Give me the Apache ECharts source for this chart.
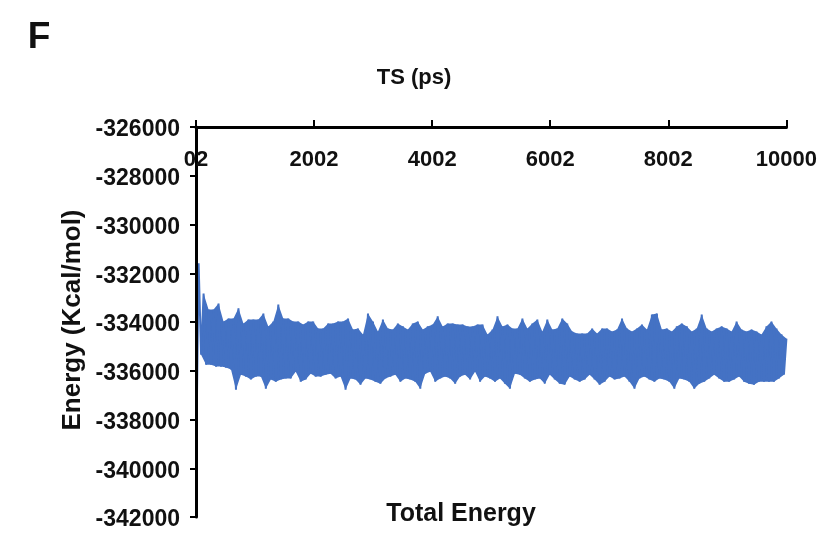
<!DOCTYPE html>
<html>
<head>
<meta charset="utf-8">
<title>Total Energy</title>
<script src="https://cdn.jsdelivr.net/npm/echarts@6/dist/echarts.min.js"></script>
<style>
  html, body { margin: 0; padding: 0; background: #fff; }
  #chart { width: 820px; height: 534px; }
</style>
</head>
<body>
<div id="chart"></div>
<script>
// x axis tick labels as printed on the figure
var tickLabels = ['02', '2002', '4002', '6002', '8002', '10000'];

// lower and upper edge of the energy trace (kcal/mol), read left to right
var lowEnergy = [
  -339950, -335340, -335750, -335750, -335830, -335830, -335870, -335950, -336780, -336160,
  -336240, -336360, -336240, -336240, -336740, -336360, -336450, -336360, -336320, -336320,
  -336040, -336450, -336360, -336120, -336240, -336240, -336160, -336120, -336320, -336240,
  -336780, -336320, -336360, -336570, -336320, -336360, -336450, -336530, -336320, -336240,
  -336160, -336450, -336320, -336360, -336450, -336740, -336120, -336040, -336450, -336320,
  -336240, -336320, -336530, -336240, -336160, -336360, -336040, -336450, -336240, -336320,
  -336450, -336320, -336530, -336740, -336120, -336160, -336320, -336450, -336360, -336320,
  -336530, -336160, -336360, -336530, -336570, -336240, -336360, -336450, -336360, -336160,
  -336360, -336570, -336450, -336240, -336360, -336320, -336240, -336450, -336740, -336320,
  -336240, -336360, -336450, -336320, -336360, -336450, -336740, -336320, -336360, -336450,
  -336740, -336530, -336450, -336320, -336160, -336320, -336450, -336450, -336360, -336240,
  -336450, -336530, -336570, -336450, -336450, -336450, -336450, -336320, -336160
];
var highEnergy = [
  -331590, -332830, -333490, -333490, -333240, -333980, -333860, -333860, -333440, -334060,
  -333900, -333900, -333900, -333650, -334180, -333980, -333280, -333860, -333860, -333980,
  -333980, -334100, -333980, -333980, -334270, -334270, -334060, -334060, -333980, -333980,
  -333860, -334310, -334270, -334510, -333650, -333980, -334390, -333900, -334270, -334310,
  -334060, -334180, -334310, -334060, -333980, -334310, -334180, -334100, -333770, -334180,
  -334060, -334060, -334100, -334100, -334180, -334180, -334100, -334100, -334510, -334310,
  -333770, -334180, -334100, -334270, -334270, -333860, -334270, -334060, -333900, -334390,
  -333900, -334310, -334270, -333860, -334060, -334390, -334470, -334470, -334470, -334270,
  -334470, -334270, -334270, -334390, -334310, -333860, -334270, -334390, -334270, -334100,
  -334310, -333690, -333650, -334310, -334270, -334390, -334180, -334060, -334180, -334390,
  -334270, -333690, -334270, -334390, -334270, -334180, -334270, -334390, -333980, -334310,
  -334390, -334310, -334390, -334510, -334180, -333980, -334270, -334510, -334680
];

var lineColor = '#4472C4';

// the trace swings between the two edges, one sample after the other
var energy = [];
for (var i = 0; i < lowEnergy.length; i++) {
  energy.push(lowEnergy[i]);
  energy.push(highEnergy[i]);
}
var timeOf = function (i) {
  return 2 + i * 9998 / (energy.length - 1);
};
var traceData = energy.map(function (v, i) {
  return [timeOf(i), v];
});

// solid fill between the two edges, so the dense trace reads as one band
function renderBand(params, api) {
  var points = [];
  var k;
  for (k = 1; k < highEnergy.length; k++) {
    points.push(api.coord([timeOf(2 * k + 1), highEnergy[k]]));
  }
  for (k = lowEnergy.length - 1; k >= 1; k--) {
    points.push(api.coord([timeOf(2 * k), lowEnergy[k]]));
  }
  return {
    type: 'polygon',
    shape: { points: points },
    style: { fill: lineColor }
  };
}

var boldFont = 'Liberation Sans, Arial, sans-serif';

var chart = echarts.init(document.getElementById('chart'));
var option = {
  animation: false,
  backgroundColor: '#fff',
  grid: {
    left: 196,
    top: 127,
    width: 591,
    height: 390
  },
  xAxis: {
    type: 'value',
    position: 'top',
    min: 0,
    max: 10000,
    interval: 2000,
    z: 3,
    axisLine: {
      show: true,
      onZero: false,
      lineStyle: { color: '#000', width: 3 }
    },
    axisTick: {
      show: true,
      length: 7,
      lineStyle: { color: '#000', width: 2 }
    },
    axisLabel: {
      inside: true,
      margin: 22,
      color: '#111',
      fontFamily: boldFont,
      fontWeight: 'bold',
      fontSize: 22,
      formatter: function (v) {
        return tickLabels[Math.round(v / 2000)];
      }
    },
    splitLine: { show: false }
  },
  yAxis: {
    type: 'value',
    min: -342000,
    max: -326000,
    interval: 2000,
    z: 3,
    axisLine: {
      show: true,
      lineStyle: { color: '#000', width: 3 }
    },
    axisTick: {
      show: true,
      length: 6,
      lineStyle: { color: '#000', width: 2 }
    },
    axisLabel: {
      margin: 16,
      verticalAlign: 'top',
      lineHeight: 6,
      color: '#111',
      fontFamily: boldFont,
      fontWeight: 'bold',
      fontSize: 23,
      formatter: function (v) {
        return String(v);
      }
    },
    splitLine: { show: false }
  },
  graphic: [
    {
      type: 'text',
      x: 39, y: 38,
      style: {
        text: 'F', fill: '#111', font: 'bold 37px ' + boldFont,
        textAlign: 'center', textVerticalAlign: 'middle'
      }
    },
    {
      type: 'text',
      x: 414, y: 78,
      style: {
        text: 'TS (ps)', fill: '#111', font: 'bold 22px ' + boldFont,
        textAlign: 'center', textVerticalAlign: 'middle'
      }
    },
    {
      type: 'text',
      x: 461, y: 514,
      style: {
        text: 'Total Energy', fill: '#111', font: 'bold 25px ' + boldFont,
        textAlign: 'center', textVerticalAlign: 'middle'
      }
    },
    {
      type: 'text',
      x: 73, y: 320,
      rotation: Math.PI / 2,
      style: {
        text: 'Energy (Kcal/mol)', fill: '#111', font: 'bold 26px ' + boldFont,
        textAlign: 'center', textVerticalAlign: 'middle'
      }
    }
  ],
  series: [
    {
      name: 'band',
      type: 'custom',
      z: 1,
      silent: true,
      clip: true,
      data: [[5000, -335000]],
      renderItem: renderBand
    },
    {
      name: 'Total Energy',
      type: 'line',
      z: 2,
      data: traceData,
      showSymbol: false,
      sampling: null,
      lineStyle: { color: lineColor, width: 2 }
    }
  ]
};
chart.setOption(option);
</script>
</body>
</html>
